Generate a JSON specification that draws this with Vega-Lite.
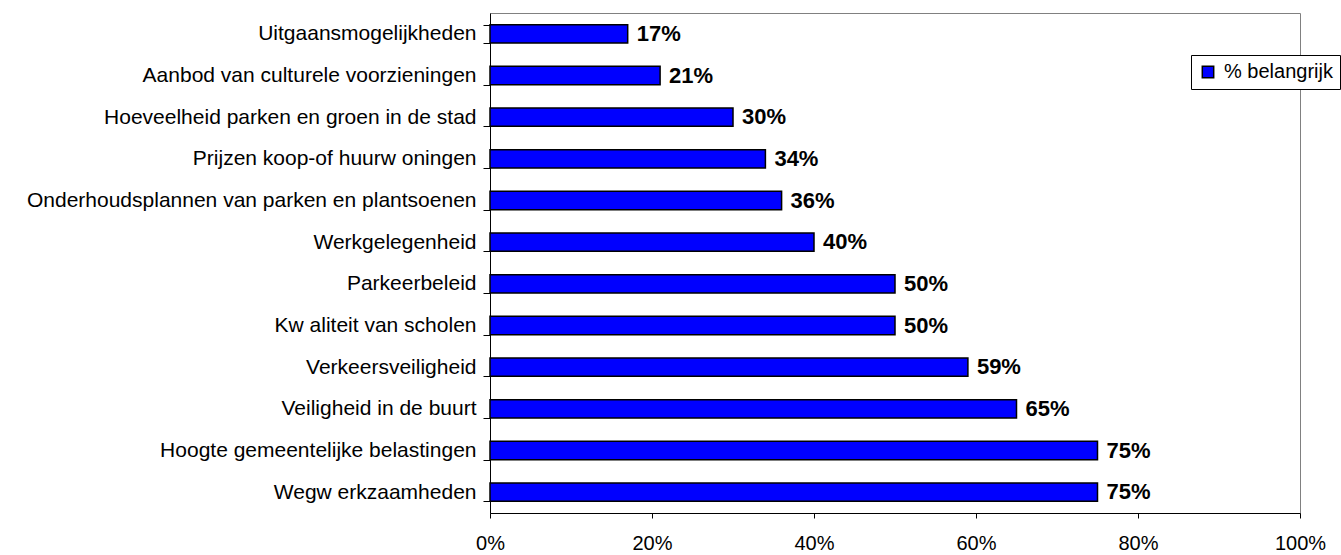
{
  "$schema": "https://vega.github.io/schema/vega-lite/v6.json",
  "autosize": {"type": "none"},
  "width": 810,
  "height": 500,
  "padding": {"left": 490, "top": 13, "right": 41, "bottom": 42},
  "background": "white",
  "config": {
    "font": "Liberation Sans",
    "view": {"stroke": "#808080", "strokeWidth": 1},
    "axis": {"grid": false, "domainColor": "#000000", "tickColor": "#000000", "labelColor": "#000000", "labelFont": "Liberation Sans", "labelFontSize": 21, "titleFontSize": 0}
  },
  "data": {
    "values": [
      {"item": "Uitgaansmogelijkheden", "pct": 0.17, "label": "17%", "series": "% belangrijk"},
      {"item": "Aanbod van culturele voorzieningen", "pct": 0.21, "label": "21%", "series": "% belangrijk"},
      {"item": "Hoeveelheid parken en groen in de stad", "pct": 0.30, "label": "30%", "series": "% belangrijk"},
      {"item": "Prijzen koop-of huurw oningen", "pct": 0.34, "label": "34%", "series": "% belangrijk"},
      {"item": "Onderhoudsplannen van parken en plantsoenen", "pct": 0.36, "label": "36%", "series": "% belangrijk"},
      {"item": "Werkgelegenheid", "pct": 0.40, "label": "40%", "series": "% belangrijk"},
      {"item": "Parkeerbeleid", "pct": 0.50, "label": "50%", "series": "% belangrijk"},
      {"item": "Kw aliteit van scholen", "pct": 0.50, "label": "50%", "series": "% belangrijk"},
      {"item": "Verkeersveiligheid", "pct": 0.59, "label": "59%", "series": "% belangrijk"},
      {"item": "Veiligheid in de buurt", "pct": 0.65, "label": "65%", "series": "% belangrijk"},
      {"item": "Hoogte gemeentelijke belastingen", "pct": 0.75, "label": "75%", "series": "% belangrijk"},
      {"item": "Wegw erkzaamheden", "pct": 0.75, "label": "75%", "series": "% belangrijk"}
    ]
  },
  "encoding": {
    "y": {
      "field": "item", "type": "nominal", "sort": null,
      "scale": {"paddingInner": 0.56, "paddingOuter": 0.28},
      "axis": {"title": null, "tickBand": "extent", "tickSize": 7, "labelPadding": 7, "labelLimit": 600}
    },
    "x": {
      "field": "pct", "type": "quantitative",
      "scale": {"domain": [0, 1], "nice": false},
      "axis": {"title": null, "format": ".0%", "values": [0, 0.2, 0.4, 0.6, 0.8, 1], "tickSize": 5, "labelPadding": 15, "labelFlush": false, "labelFontSize": 20}
    }
  },
  "layer": [
    {
      "mark": {"type": "bar", "stroke": "#000000", "strokeWidth": 1.5},
      "encoding": {
        "fill": {
          "field": "series", "type": "nominal",
          "scale": {"range": ["#0000FF"]},
          "legend": {
            "title": null, "orient": "none", "legendX": 701, "legendY": 42,
            "strokeColor": "#000000", "fillColor": "white", "padding": 7,
            "symbolType": "square", "symbolSize": 130, "symbolStrokeColor": "#000000", "symbolStrokeWidth": 1.5,
            "labelFontSize": 20, "labelColor": "#000000", "labelOffset": 6, "labelFont": "Liberation Sans"
          }
        }
      }
    },
    {
      "mark": {"type": "text", "align": "left", "baseline": "middle", "dx": 9, "fontSize": 22, "fontWeight": "bold", "color": "#000000", "font": "Liberation Sans"},
      "encoding": {"text": {"field": "label"}}
    }
  ]
}
